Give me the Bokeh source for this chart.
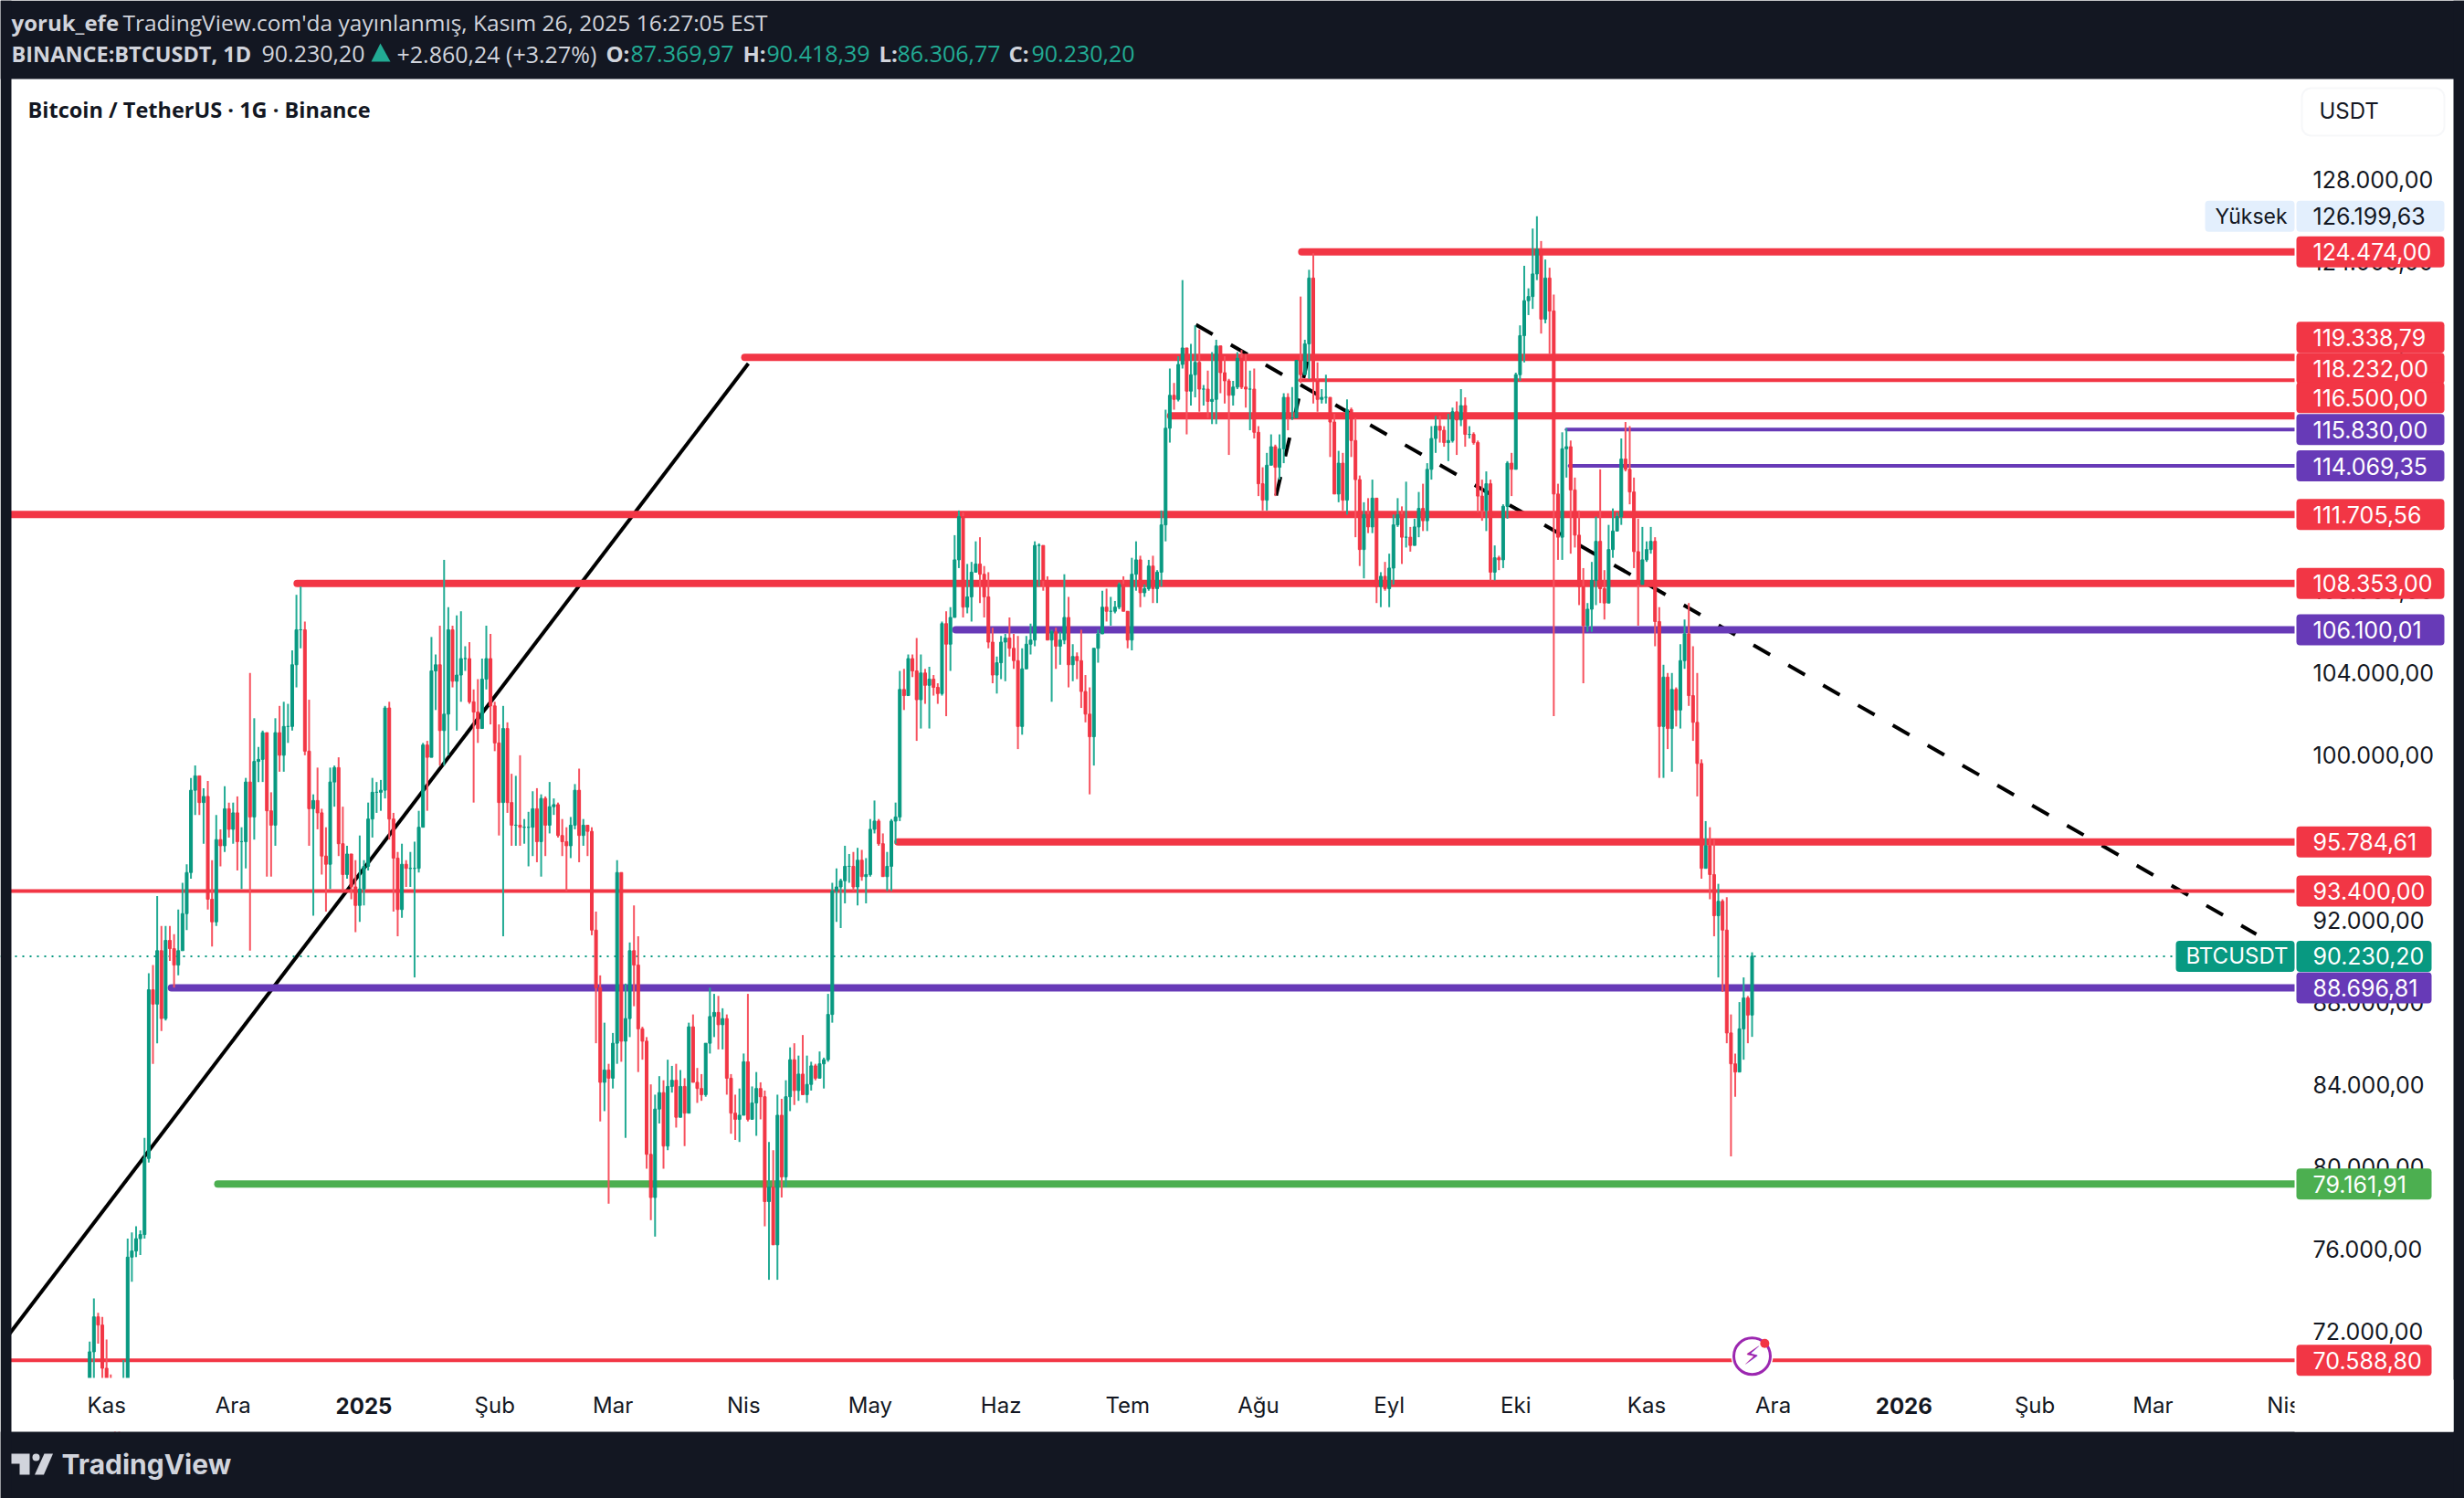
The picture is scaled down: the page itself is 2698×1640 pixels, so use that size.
from datetime import date
from bokeh.embed import file_html
from bokeh.resources import INLINE
from bokeh.plotting import figure
from bokeh.models import (Range1d, LinearAxis, FixedTicker, Label, BoxAnnotation,
                          PolyAnnotation, ColumnDataSource)

# ---------- DATA (thousands of USDT, one row per calendar month) ----------
FIRST_DAY = date(2024, 10, 28)
FIRST_OPEN = 67.9
closes_k = [
 [71.0,72.7,72.3,70.2],
 [69.5,69.3,68.7,67.8,69.3,75.6,75.9,76.5,76.7,80.4,88.6,87.9,90.5,87.2,91.0,90.6,89.8,90.5,92.3,94.3,98.3,99.0,97.7,98.0,93.0,91.9,95.9,95.6,97.4,96.4],
 [97.2,95.8,95.8,98.7,97.0,99.7,99.8,101.1,97.3,96.6,101.1,100.0,101.4,101.4,104.4,106.1,106.1,100.2,97.4,97.8,97.2,95.1,94.7,98.7,99.4,95.7,94.2,95.2,93.6,92.7,93.5],
 [94.6,96.9,98.2,98.2,98.3,102.3,96.9,95.0,92.5,94.7,94.5,94.5,94.5,96.5,100.5,99.9,104.1,104.4,101.2,102.0,106.1,103.6,103.9,104.7,104.7,102.6,102.1,101.3,103.7,104.7,102.4],
 [100.6,97.7,101.3,97.7,96.6,96.6,96.5,96.5,96.5,97.4,95.8,97.9,96.6,97.5,97.6,96.1,95.8,95.6,96.6,98.3,96.1,96.6,96.3,91.5,88.7,84.1,84.7,84.3],
 [86.0,94.3,86.1,87.2,90.5,89.8,86.7,86.1,80.6,78.5,82.8,83.6,81.0,83.9,84.2,82.4,83.9,82.6,86.8,84.1,83.8,83.5,86.0,87.3,87.5,86.9,87.2,84.3,82.6,82.3,82.5],
 [85.1,82.3,83.1,83.8,83.4,78.3,79.0,76.2,82.5,79.5,83.4,85.2,83.7,84.5,83.5,84.0,84.9,84.3,85.0,85.2,87.4,93.4,93.6,93.9,94.6,94.6,93.6,94.9,94.1,94.2],
 [96.4,96.8,95.7,94.1,94.6,96.8,97.0,103.2,102.9,104.7,104.1,102.7,104.0,103.4,103.7,103.3,103.0,106.4,105.4,106.7,109.5,111.6,107.2,107.7,108.9,109.3,108.8,107.7,105.5,103.9,104.5],
 [105.5,105.7,105.2,104.6,101.4,104.2,105.4,105.6,110.2,110.2,108.5,105.6,106.0,105.3,105.6,106.7,104.4,104.8,104.6,103.1,102.0,100.9,105.2,105.9,107.2,107.0,107.0,107.2,108.3,107.0],
 [105.6,108.8,109.5,107.9,108.1,109.2,108.1,108.9,111.2,115.9,117.5,117.3,119.0,119.8,117.7,118.5,119.1,117.8,117.8,117.2,117.3,119.9,118.6,118.2,117.5,117.9,119.3,117.9,117.8,117.8,115.7],
 [113.2,112.4,114.1,115.0,114.0,114.9,117.4,116.4,116.4,119.2,118.5,120.0,123.2,118.2,117.3,117.4,117.4,116.2,112.7,114.2,112.4,116.8,115.3,113.4,110.0,111.7,111.1,112.5,108.2,108.7,108.1],
 [109.1,111.2,111.7,110.6,110.6,110.2,111.1,112.0,111.4,113.9,115.4,116.0,115.8,115.2,115.3,116.7,116.3,117.0,115.6,115.6,115.2,112.6,111.9,113.2,108.9,109.6,109.5,112.1,114.2,113.9],
 [118.5,120.4,122.1,122.3,123.4,124.6,121.2,123.2,121.6,112.7,110.6,114.9,115.0,112.9,110.7,108.2,106.3,107.1,108.5,110.4,108.1,107.4,110.0,110.9,111.6,114.4,113.9,112.8,109.9,108.3,109.5],
 [110.0,110.4,106.5,101.4,103.8,101.3,103.2,102.2,104.6,105.9,102.9,101.6,99.6,94.5,95.6,94.2,92.2,92.9,91.5,86.5,85.0,84.6,86.7,88.2,87.37,90.23],
]
highs_k = [
 [71.5,73.6,72.9,72.7],
 [71.6,69.9,69.5,69.5,70.6,76.5,76.8,77.1,76.9,81.4,89.4,89.8,93.15,91.7,91.7,91.7,91.3,92.5,93.8,94.7,98.9,99.5,98.9,98.4,98.75,94.9,97.1,96.4,98.5,97.7],
 [97.7,98.0,96.5,98.9,104.0,101.8,100.4,101.2,101.1,98.2,101.8,102.4,102.6,102.5,105.1,107.8,108.2,106.5,102.7,98.1,99.4,97.4,96.5,99.4,99.5,99.9,97.5,95.6,95.2,94.9,96.1],
 [94.9,97.7,98.9,98.7,98.8,102.4,102.6,97.2,95.3,95.7,94.9,95.3,95.8,97.3,100.6,100.7,105.75,104.9,106.3,109.5,107.2,106.3,106.8,107.0,105.3,105.5,103.2,103.7,104.7,106.3,105.9],
 [102.6,101.5,102.4,101.6,99.1,99.0,100.0,96.9,97.25,98.25,98.4,98.1,98.0,98.7,97.9,97.7,96.9,96.5,97.0,98.6,99.35,96.9,96.6,96.5,92.4,89.3,87.0,85.0],
 [86.5,94.9,94.3,88.9,90.9,92.7,91.2,86.8,86.3,84.0,83.5,84.4,84.2,85.2,84.9,85.0,84.7,84.3,87.0,87.4,84.8,84.5,86.0,88.7,88.4,88.3,87.7,87.4,84.5,83.5,83.8],
 [85.5,88.4,83.9,84.6,84.1,83.7,81.2,80.8,83.5,83.3,84.2,85.8,86.0,85.4,86.4,85.4,85.1,85.0,85.6,85.3,88.4,93.8,94.5,94.0,95.6,95.2,95.3,95.5,95.4,95.0],
 [96.9,97.8,96.9,96.2,95.3,96.9,97.7,104.1,104.2,104.9,104.9,105.7,104.9,104.2,104.3,103.9,103.5,106.5,107.0,107.2,110.7,111.9,111.8,109.3,109.4,110.4,110.6,109.2,108.9,106.2,104.8],
 [105.8,105.9,106.7,105.9,105.8,105.2,105.8,106.4,110.4,110.3,110.2,108.7,106.1,106.2,106.0,108.8,107.7,105.4,105.0,106.1,103.9,103.3,105.2,106.1,108.0,108.1,107.7,107.5,108.4,108.7],
 [107.0,109.6,110.4,109.7,108.3,109.5,109.7,109.0,111.9,116.8,118.8,118.1,119.4,123.1,119.8,120.0,120.9,120.7,118.0,118.7,119.6,120.2,119.9,119.4,118.3,118.2,119.6,119.7,119.5,118.7,118.8],
 [116.0,114.0,114.7,115.6,115.1,115.6,117.6,117.6,117.9,119.2,122.3,120.2,123.6,124.4,119.1,117.8,118.5,117.4,116.6,114.8,114.7,117.3,116.9,116.4,113.6,112.3,112.5,113.4,112.5,108.9,109.4],
 [109.8,111.7,112.5,112.1,113.3,111.1,111.5,112.8,113.2,114.2,116.0,116.5,116.5,116.0,116.6,116.9,117.2,117.8,117.4,116.0,115.7,115.3,113.4,113.8,113.4,110.2,109.7,112.2,114.3,114.7],
 [118.6,120.9,123.8,122.7,125.6,126.2,125.0,124.1,123.7,122.4,113.2,115.7,115.9,115.3,113.5,111.9,109.1,107.4,109.4,111.6,113.9,109.0,111.2,112.0,111.8,115.4,116.2,116.0,113.5,111.5,111.1],
 [110.4,111.1,110.6,107.2,104.4,104.0,104.0,103.3,105.4,106.6,107.4,105.3,104.0,99.8,96.8,96.5,95.9,93.75,93.0,93.1,87.4,85.5,88.0,89.2,88.3,90.42],
]
lows_k = [
 [67.5,69.7,71.4,69.6],
 [68.8,68.9,66.8,66.7,67.5,69.3,74.4,75.6,75.7,76.5,80.2,85.0,86.0,86.6,87.1,90.0,88.7,89.3,90.9,91.5,94.0,97.1,97.1,95.7,92.5,90.7,91.7,94.6,95.3,96.0],
 [95.7,94.4,93.5,94.5,90.5,95.9,98.7,98.7,94.1,94.1,95.6,99.2,99.2,100.6,101.2,103.3,105.2,100.0,95.6,92.2,96.4,94.2,92.4,93.5,97.5,95.1,93.4,94.0,93.0,91.4,91.9],
 [92.7,94.4,96.0,97.2,97.3,97.9,95.9,92.4,91.2,92.1,93.6,93.6,89.2,94.3,96.5,97.3,99.9,102.2,99.5,99.5,100.0,103.3,101.2,102.6,104.1,102.5,97.7,100.6,101.3,103.2,101.5],
 [100.2,96.1,91.2,97.2,95.6,95.6,95.6,95.7,94.6,95.1,94.8,94.1,95.1,96.2,97.1,96.0,95.1,93.4,95.0,96.4,94.8,95.6,95.1,91.25,86.0,82.2,82.7,78.2],
 [83.8,85.0,85.1,81.4,86.3,87.8,84.6,85.2,79.9,77.4,76.6,82.1,79.9,80.8,83.6,81.9,82.4,81.0,82.6,84.1,83.1,83.2,83.4,85.5,86.3,85.7,85.7,83.5,81.6,81.3,81.2],
 [83.3,82.2,82.4,81.5,82.3,77.1,74.5,76.2,74.5,78.5,79.0,82.7,83.0,83.2,83.5,83.1,83.7,84.2,84.3,83.8,85.1,87.0,91.9,91.6,92.8,93.8,93.4,92.7,93.9,92.8],
 [94.1,96.2,95.6,94.1,93.4,93.4,95.7,96.8,102.2,102.9,103.8,100.7,101.3,102.5,101.3,102.9,102.5,102.9,101.9,104.1,106.7,109.1,106.7,106.9,106.5,108.9,107.4,106.7,105.2,103.5,103.0],
 [103.7,103.6,104.8,104.2,100.3,101.0,104.2,104.9,105.3,108.2,108.0,105.6,102.6,104.2,104.4,105.4,103.3,103.6,103.7,102.3,101.6,98.1,99.5,104.5,105.9,106.5,106.3,106.9,107.1,107.0],
 [105.2,105.1,108.0,107.2,107.7,108.0,107.4,107.4,108.2,110.4,115.2,116.8,117.2,118.8,115.6,117.0,117.4,116.7,117.0,116.4,116.1,116.1,117.6,117.1,114.6,117.0,117.8,117.8,116.9,115.8,115.4],
 [112.6,111.9,111.9,114.3,112.6,113.4,114.2,115.8,116.3,116.4,118.1,118.5,118.3,117.1,116.7,117.1,117.1,114.5,112.7,112.3,111.9,111.7,114.5,110.6,109.2,108.6,110.8,110.8,107.4,107.2,108.0],
 [107.2,108.3,111.1,109.3,110.1,109.9,110.2,110.6,110.9,110.9,113.4,114.7,115.2,115.0,114.3,115.2,114.6,116.0,115.0,115.4,115.1,111.8,111.4,110.9,108.5,108.5,109.0,109.1,111.5,112.6],
 [113.9,118.2,119.1,121.4,121.7,123.1,120.5,121.0,119.5,101.9,109.5,109.5,113.5,109.8,110.1,107.3,103.5,106.0,106.0,107.3,107.4,106.6,107.4,109.6,110.9,111.2,113.8,112.2,109.1,106.3,108.3],
 [109.4,109.8,105.3,98.9,98.9,100.3,99.2,101.4,101.3,104.2,102.4,100.7,98.0,94.0,94.5,93.0,91.2,89.2,88.5,86.0,80.5,83.4,84.6,85.2,86.0,86.31],
]
month_lengths = [4,30,31,31,28,31,30,31,30,31,31,30,31,26]

# horizontal levels drawn on the chart: price, start (days after FIRST_DAY)
level_prices = [124474.00,119338.79,118232.00,116500.00,115830.00,114069.35,111705.56,108353.00,106100.01,95784.61,93400.00,88696.81,79161.91,70588.80]
level_starts = [286.4,154.4,286.4,255.3,349.6,350.3,-20,48.3,204.4,190.7,-20,18.5,29.5,-20]
level_kinds  = ["red","red","red","red","purple","purple","red","red","purple","red","red","purple","green","red"]
level_thick  = [8,8,4,8,4,4,8,8,8,8,4,8,8,4]
level_shift  = [0,22,13,20,0,0,0,0,0,0,0,0,0,0]

trend_x = [-20, 156.1]
trend_y = [71610, 119040]
dash_a_x = [262.2, 513.5]
dash_a_y = [120927, 91300]
dash_b_x = [281.2, 288.6]
dash_b_y = [112630, 119150]

price_ticks = list(range(72000, 128001, 4000))
time_ticks = [(date(2024,11,1),"Kas"),(date(2024,12,1),"Ara"),(date(2025,1,1),"2025"),(date(2025,2,1),"Şub"),
              (date(2025,3,1),"Mar"),(date(2025,4,1),"Nis"),(date(2025,5,1),"May"),(date(2025,6,1),"Haz"),
              (date(2025,7,1),"Tem"),(date(2025,8,1),"Ağu"),(date(2025,9,1),"Eyl"),(date(2025,10,1),"Eki"),
              (date(2025,11,1),"Kas"),(date(2025,12,1),"Ara"),(date(2026,1,1),"2026"),(date(2026,2,1),"Şub"),
              (date(2026,3,1),"Mar"),(date(2026,4,1),"Nis")]
last_price = 90230.20
ath_price = 126199.63

# ---------- style ----------
DARK="#131722"; RED="#F23645"; PURPLE="#673AB7"; GREEN="#4CAF50"; UP="#089981"; WICK_UP="#22AB94"; WICK_DN="#F7525F"
KIND={"red":RED,"purple":PURPLE,"green":GREEN}
FONT="Inter"; HEAD="Open Sans"

for m,(a,b,c,n) in enumerate(zip(closes_k,highs_k,lows_k,month_lengths)):
    assert len(a)==len(b)==len(c)==n,(m,len(a),len(b),len(c),n)

closes=[v*1000 for r in closes_k for v in r]
highs=[v*1000 for r in highs_k for v in r]
lows=[v*1000 for r in lows_k for v in r]
opens=[FIRST_OPEN*1000]+closes[:-1]
idx=list(range(len(closes)))
up=[c>=o for c,o in zip(closes,opens)]
src=ColumnDataSource(dict(x=idx,o=opens,c=closes,h=highs,l=lows,
    top=[max(a,b) for a,b in zip(opens,closes)],bot=[min(a,b) for a,b in zip(opens,closes)],
    body=[UP if u else RED for u in up],wick=[WICK_UP if u else WICK_DN for u in up]))

def fmt(v):
    return f"{v:,.2f}".replace(",","#").replace(".",",").replace("#",".")

# the plot frame is the whole page; the chart pane is x 12..2512, y 86..1508
W,H=2698,1640
FL,FR,FT,FB=12,2512,86,1508
PX=4.62; X0=97.7
Y128=195.8; PPY=0.02252
def xd(px): return (px-X0)/PX
def yd(py): return 128000-(py-Y128)/PPY
def ypx(price): return Y128+(128000-price)*PPY
xr=Range1d(xd(0),xd(W))
yr=Range1d(yd(H),yd(0))
p=figure(width=W,height=H,x_range=xr,y_range=yr,output_backend="svg",toolbar_location=None,tools="",
         min_border=0,border_fill_color=DARK,background_fill_color="white",outline_line_color=None,
         x_axis_location=None,y_axis_location=None)
p.grid.visible=False

def sx(px): return px
def sy(py): return H-py

# axes (fixed at the pane's right and bottom edges, drawn above the cover quads)
ra=LinearAxis(ticker=FixedTicker(ticks=price_ticks),major_label_overrides={t:fmt(t) for t in price_ticks},
    fixed_location=xd(FR),axis_line_color=None,major_tick_line_color=None,minor_tick_line_color=None,
    major_tick_out=0,major_tick_in=0,major_label_standoff=20,
    major_label_text_font=FONT,major_label_text_font_size="25px",major_label_text_color=DARK)
p.add_layout(ra,"right")
tick_idx=[(d-FIRST_DAY).days for d,_ in time_ticks]
ba=LinearAxis(ticker=FixedTicker(ticks=tick_idx),
    major_label_overrides={i:("" if t.isdigit() else t) for i,(_,t) in zip(tick_idx,time_ticks)},
    fixed_location=yd(FB),axis_line_color=None,major_tick_line_color=None,minor_tick_line_color=None,
    major_tick_out=0,major_tick_in=0,major_label_standoff=15,
    major_label_text_font=FONT,major_label_text_font_size="24px",major_label_text_color=DARK)
p.add_layout(ba,"below")

# drawings under the candles
p.line(dash_b_x,dash_b_y,line_color="black",line_width=4,line_dash=[21,23])
p.line(dash_a_x,dash_a_y,line_color="black",line_width=4,line_dash=[21,23])
p.line(trend_x,trend_y,line_color="black",line_width=4)
p.line([xd(0),xd(2382)],[last_price,last_price],line_color=UP,line_width=2,line_dash=[2,6])
for price,start,kind,th in zip(level_prices,level_starts,level_kinds,level_thick):
    p.line([start+th/2/PX,xd(FR)],[price,price],line_color=KIND[kind],line_width=th,line_cap="round")

# candles
p.segment("x","h","x","l",source=src,line_color="wick",line_width=2)
p.vbar("x",3/PX,"top","bot",source=src,fill_color="body",line_color="body",line_width=1)

# covers that give the pane its edges and the dark page frame
def cover(l,r,t,b,color):
    p.quad(left=[xd(l)],right=[xd(r)],top=[yd(t)],bottom=[yd(b)],fill_color=color,line_color=None)
cover(FR,2686,FT,1567,"white")
cover(FL,2686,FB,1567,"white")
cover(0,W,0,FT,DARK)
cover(0,W,1567,H,DARK)
cover(0,FL,0,H,DARK)
cover(2686,W,0,H,DARK)

# event icon
icon_x=idx[-1]; icon_y=70787
p.scatter([icon_x],[icon_y],size=46,marker="circle",fill_color="white",line_color=None)
p.scatter([icon_x],[icon_y],size=40,marker="circle",fill_color=None,line_color="#9C27B0",line_width=3)
p.scatter([icon_x+3],[71410],size=10,marker="circle",fill_color=RED,line_color=None)
p.add_layout(Label(x=icon_x,y=icon_y,text="⚡",text_font="DejaVu Sans",text_font_size="28px",text_color="#9C27B0",
                   text_align="center",text_baseline="middle"))

# bold year ticks
for i,(_,t) in zip(tick_idx,time_ticks):
    if t.isdigit():
        p.add_layout(Label(x=i,y=sy(1538),x_units="data",y_units="screen",text=t,text_align="center",text_baseline="middle",
                           text_font=FONT,text_font_size="24px",text_font_style="bold",text_color=DARK))

# hide "Nis" overflow into the price scale
p.add_layout(BoxAnnotation(left=FR,right=2686,top=1510,bottom=1567,left_units="canvas",right_units="canvas",
             top_units="canvas",bottom_units="canvas",fill_color="white",fill_alpha=1,line_color=None,level="annotation"))

# price tags
def box(l,r,t,b,fill,line=None,radius=4):
    p.add_layout(BoxAnnotation(left=l,right=r,top=t,bottom=b,left_units="canvas",right_units="canvas",
        top_units="canvas",bottom_units="canvas",fill_color=fill,fill_alpha=1,line_color=line,line_width=2,border_radius=radius))
def tag_text(px,price,t,color,size=25,shift=0):
    p.add_layout(Label(x=sx(px),y=price,x_units="screen",y_units="data",y_offset=shift,text=t,text_color=color,
        text_font=FONT,text_font_size=f"{size}px",text_align="left",text_baseline="middle"))
def value_tag(price,fill,color="white",shift=0):
    c=ypx(price)-shift
    r=2676 if price>=100000 else 2662
    box(2514,r,c-17,c+17,fill)
    tag_text(2532,price,fmt(price),color,shift=shift)
box(2414,2512,ypx(ath_price)-17,ypx(ath_price)+17,"#E3EFFD")
tag_text(2425,ath_price,"Yüksek",DARK,size=23)
value_tag(ath_price,"#E3EFFD",DARK)
for price,kind,s in zip(level_prices,level_kinds,level_shift):
    value_tag(price,KIND[kind],shift=s)
box(2382,2512,ypx(last_price)-17,ypx(last_price)+17,UP)
tag_text(2393,last_price,"BTCUSDT","white",size=24)
value_tag(last_price,UP)

# header + titles
def text(px,py,t,color,size=24,bold=False,font=HEAD):
    p.add_layout(Label(x=sx(px),y=sy(py),x_units="screen",y_units="screen",text=t,text_color=color,text_font=font,
        text_font_size=f"{size}px",text_font_style="bold" if bold else "normal",text_align="left",text_baseline="middle"))
GREY="#D1D4DC"
text(12,24,"yoruk_efe",GREY,bold=True)
text(134,24,"TradingView.com'da yayınlanmış, Kasım 26, 2025 16:27:05 EST",GREY,size=24.5)
text(12,58,"BINANCE:BTCUSDT, 1D",GREY,size=23.5,bold=True)
text(286,58,"90.230,20",GREY,size=25)
text(434,58,"+2.860,24 (+3.27%)",GREY,size=25)
for px,t,vx,v in [(663,"O:",690,"87.369,97"),(813,"H:",839,"90.418,39"),(962,"L:",982,"86.306,77"),(1104,"C:",1129,"90.230,20")]:
    text(px,58,t,GREY,bold=True)
    text(vx,58,v,WICK_UP,size=25)
p.add_layout(PolyAnnotation(xs=[sx(416),sx(427),sx(406)],ys=[sy(47),sy(67),sy(67)],xs_units="screen",ys_units="screen",
                            fill_color=WICK_UP,fill_alpha=1,line_color=None))
text(30,119,"Bitcoin / TetherUS · 1G · Binance",DARK,size=23.5,bold=True)
box(2520,2676,96,148,"white",line="#E0E3EB",radius=10)
text(2539,121,"USDT",DARK,font=FONT)

# footer logo
LOGO="#D1D4DC"
p.add_layout(PolyAnnotation(xs=[sx(v) for v in (12,32,32,21,21,12)],ys=[sy(v) for v in (1591,1591,1614,1614,1602,1602)],
             xs_units="screen",ys_units="screen",fill_color=LOGO,fill_alpha=1,line_color=None))
p.add_layout(PolyAnnotation(xs=[sx(v) for v in (48,57.5,47.5,37.5)],ys=[sy(v) for v in (1591,1591,1614,1614)],
             xs_units="screen",ys_units="screen",fill_color=LOGO,fill_alpha=1,line_color=None))
box(35,43,1591,1599,LOGO)
text(67,1602,"TradingView",LOGO,size=30,bold=True,font=FONT)

open("out.html","w").write(file_html(p,INLINE))
